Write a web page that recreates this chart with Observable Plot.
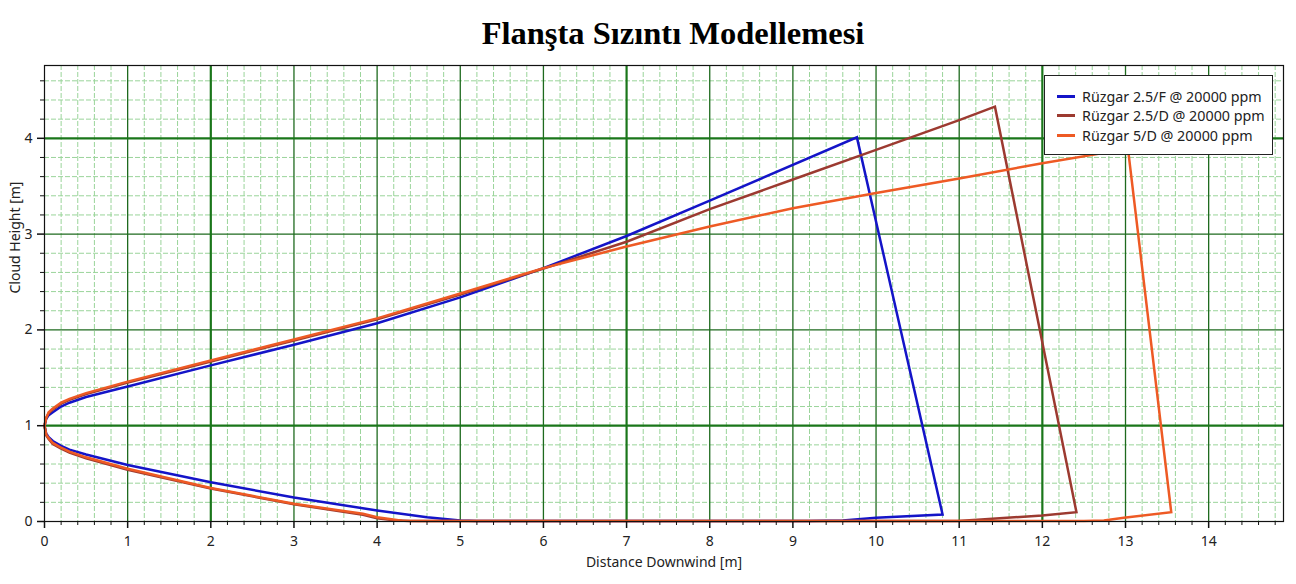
<!DOCTYPE html>
<html>
<head>
<meta charset="utf-8">
<script src="https://cdn.jsdelivr.net/npm/d3@7"></script>
<script src="https://cdn.jsdelivr.net/npm/@observablehq/plot@0.6"></script>
<style>
  html, body { margin: 0; padding: 0; background: #fff; }
  #wrap { position: relative; width: 1296px; height: 584px; overflow: hidden; }
  #title { height: 60px; box-sizing: border-box; padding-top: 17px; text-align: center;
           font-family: "Liberation Serif", "Times New Roman", serif; font-weight: bold;
           font-size: 32.5px; line-height: 1; color: #000; padding-left: 50px; }
  #legend { position: absolute; left: 1044px; top: 75px; width: 227px; height: 78px;
            background: #fff; border: 1px solid #222; font-family: "Noto Sans", sans-serif;
            font-size: 14.3px; color: #222; box-sizing: content-box; }
  .item { position: absolute; left: 12px; height: 20px; display: flex; align-items: center; }
  .sw { width: 18px; height: 3px; margin-right: 7px; }
</style>
</head>
<body>
<div id="wrap">
  <div id="title">Flanşta Sızıntı Modellemesi</div>
  <div id="chart"></div>
  <div id="legend"></div>
</div>
<script>
// ---- data ----
const seriesNames = ["Rüzgar 2.5/F @ 20000 ppm", "Rüzgar 2.5/D @ 20000 ppm", "Rüzgar 5/D @ 20000 ppm"];
const seriesColors = ["#1414c8", "#9c3a30", "#ee5a24"];

const blueX = [0, 0.02, 0.05, 0.1, 0.2, 0.3, 0.5, 1, 2, 3, 4, 5, 6, 7, 8, 9.77, 10.8, 10.0, 9.6, 9.2, 5.2, 5.0, 4.6, 4.0, 3, 2, 1, 0.5, 0.3, 0.2, 0.1, 0.05, 0.02, 0];
const blueY = [1, 1.07, 1.11, 1.14, 1.2, 1.24, 1.30, 1.41, 1.63, 1.845, 2.07, 2.34, 2.645, 2.98, 3.35, 4.01, 0.073, 0.04, 0.01, 0.005, 0.005, 0.01, 0.045, 0.115, 0.25, 0.41, 0.59, 0.70, 0.75, 0.79, 0.84, 0.88, 0.92, 1];

const brownX = [0, 0.02, 0.05, 0.1, 0.2, 0.3, 0.5, 1, 2, 3, 4, 5, 6, 7, 8, 9, 10, 11, 11.43, 12.41, 12.0, 11.22, 10.98, 4.4, 4.2, 4.0, 3.83, 3, 2, 1, 0.5, 0.3, 0.2, 0.1, 0.05, 0.02, 0];
const brownY = [1, 1.08, 1.13, 1.17, 1.23, 1.27, 1.33, 1.45, 1.67, 1.89, 2.11, 2.37, 2.64, 2.92, 3.26, 3.57, 3.88, 4.19, 4.33, 0.097, 0.063, 0.018, 0.005, 0.005, 0.012, 0.035, 0.07, 0.18, 0.345, 0.54, 0.66, 0.72, 0.76, 0.81, 0.86, 0.9, 1];

const orangeX = [0, 0.02, 0.05, 0.1, 0.2, 0.3, 0.5, 1, 2, 3, 4, 5, 6, 7, 8, 9, 10, 11, 12, 13.03, 13.55, 12.98, 12.74, 12.5, 4.5, 4.3, 4.0, 3.83, 3, 2, 1, 0.5, 0.3, 0.2, 0.1, 0.05, 0.02, 0];
const orangeY = [1, 1.08, 1.14, 1.18, 1.24, 1.28, 1.34, 1.46, 1.68, 1.90, 2.12, 2.38, 2.645, 2.87, 3.08, 3.27, 3.43, 3.58, 3.74, 3.89, 0.097, 0.04, 0.01, 0.005, 0.005, 0.008, 0.045, 0.08, 0.185, 0.35, 0.55, 0.67, 0.73, 0.77, 0.82, 0.87, 0.91, 1];

const xTicks = [0, 1, 2, 3, 4, 5, 6, 7, 8, 9, 10, 11, 12, 13, 14];
const yTicks = [0, 1, 2, 3, 4];
const xHeavy = [2, 7, 12];
const yHeavy = [1, 4];
const xMax = 14.9, yMax = 4.76;

// ---- build table ----
const rows = [];
[[blueX, blueY], [brownX, brownY], [orangeX, orangeY]].forEach(([xs, ys], k) => {
  xs.forEach((x, i) => rows.push({series: seriesNames[k], x, y: ys[i]}));
});

const xMinor = d3.range(1, Math.floor(xMax * 5) + 1).map(i => i / 5).filter(v => Math.abs(v - Math.round(v)) > 1e-9);
const yMinor = d3.range(1, Math.floor(yMax * 5) + 1).map(i => i / 5).filter(v => Math.abs(v - Math.round(v)) > 1e-9);
const xMajor = xTicks.filter(v => v > 0 && !xHeavy.includes(v));
const yMajor = yTicks.filter(v => v > 0 && !yHeavy.includes(v));

const chart = Plot.plot({
  width: 1296,
  height: 524,
  marginTop: 5,
  marginRight: 13,
  marginBottom: 63,
  marginLeft: 44,
  style: {fontFamily: "Noto Sans, sans-serif", fontSize: "14px", color: "#222", background: "white"},
  x: {domain: [0, xMax], label: null},
  y: {domain: [0, yMax], label: null},
  color: {domain: seriesNames, range: seriesColors},
  marks: [
    Plot.ruleX(xMinor, {stroke: "#9ad49a", strokeWidth: 1, strokeDasharray: "5,2"}),
    Plot.ruleY(yMinor, {stroke: "#9ad49a", strokeWidth: 1, strokeDasharray: "5,2"}),
    Plot.ruleX(xMajor, {stroke: "#1e6a1e", strokeWidth: 1.3}),
    Plot.ruleY(yMajor, {stroke: "#1e6a1e", strokeWidth: 1.3}),
    Plot.ruleX(xHeavy, {stroke: "#1a761a", strokeWidth: 2.2}),
    Plot.ruleY(yHeavy, {stroke: "#1a761a", strokeWidth: 2.2}),
    Plot.line(rows, {x: "x", y: "y", z: "series", stroke: "series", strokeWidth: 2.5, strokeLinejoin: "miter", strokeMiterlimit: 10}),
    Plot.frame({stroke: "#111", strokeWidth: 1.2}),
    Plot.axisX(xMinor, {tickSize: 4, tickFormat: () => "", stroke: "#111"}),
    Plot.axisX(xTicks, {tickSize: 7, tickPadding: 8, tickFormat: d => String(d), stroke: "#111", fill: "#222", fontSize: 14, strokeWidth: 1.5}),
    Plot.axisY(yMinor, {tickSize: 4, tickFormat: () => "", stroke: "#111"}),
    Plot.axisY(yTicks, {tickSize: 7, tickPadding: 5, tickFormat: d => String(d), stroke: "#111", fill: "#222", fontSize: 14, strokeWidth: 1.5}),
    Plot.text(["Distance Downwind [m]"], {frameAnchor: "bottom", dy: 45, fontSize: 14, fill: "#222"}),
    Plot.text(["Cloud Height [m]"], {frameAnchor: "left", dx: -29, rotate: -90, fontSize: 14, fill: "#222"})
  ]
});
document.getElementById("chart").appendChild(chart);

// ---- legend ----
const legend = document.getElementById("legend");
seriesNames.forEach((name, i) => {
  const item = document.createElement("div");
  item.className = "item";
  item.style.top = (10 + i * 19.5) + "px";
  const sw = document.createElement("div");
  sw.className = "sw";
  sw.style.background = seriesColors[i];
  const t = document.createElement("span");
  t.textContent = name;
  item.appendChild(sw);
  item.appendChild(t);
  legend.appendChild(item);
});
</script>
</body>
</html>
